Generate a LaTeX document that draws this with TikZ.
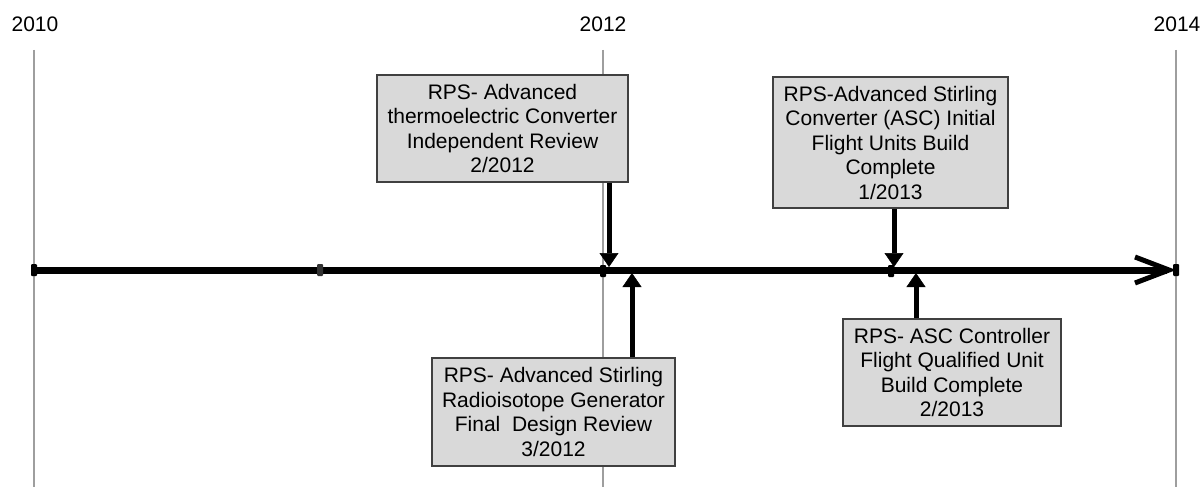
\documentclass[tikz,border=0pt]{standalone}
\usepackage{fontspec}
\setmainfont{Liberation Sans}
\usetikzlibrary{arrows.meta}
\begin{document}
\begin{tikzpicture}[x=1pt,y=-1pt,
  yearlabel/.style={font=\fontsize{21}{24}\selectfont, text=black, inner sep=0},
  gridline/.style={draw=black!38, line width=1.6pt},
  axisline/.style={line width=7pt, -{Straight Barb[length=34pt,width=26pt,line width=5pt]}},
  evbox/.style={draw=black!75, line width=1.5pt, fill=black!15, inner sep=0, align=center, font=\fontsize{21}{24.5}\selectfont},
  evarrow/.style={line width=5pt, -{Triangle[length=14pt,width=19pt,line width=0.5pt]}},
  tickmark/.style={fill=black, minimum width=6pt, minimum height=12pt, inner sep=0, rounded corners=1pt}
]
\useasboundingbox (0,0) rectangle (1202,487);
% year labels
\node[yearlabel] (l10) at (35,24) {2010};
\node[yearlabel] (l12) at (603,24) {2012};
\node[yearlabel] (l14) at (1177,24) {2014};
% grid lines
\draw[gridline] (34,50) -- (34,487);
\draw[gridline] (603,50) -- (603,487);
\draw[gridline] (1176,50) -- (1176,487);
% axis
\coordinate (start) at (34,270);
\coordinate (end) at (1176,270);
\draw[axisline] (start) -- (end);
\node[tickmark] (m0) at (34,270) {};
\node[tickmark, fill=black!80] (m1) at (320,270) {};
\node[tickmark] (m2) at (603,271) {};
\node[tickmark] (m3) at (891,271) {};
\node[tickmark] (m4) at (1176,270) {};
% events
\node[evbox, minimum width=251pt, minimum height=107pt] (A) at (502.5,128.5)
  {RPS- Advanced\\thermoelectric Converter\\Independent Review\\2/2012};
\node[evbox, minimum width=243pt, minimum height=108pt] (B) at (553.5,412)
  {RPS- Advanced Stirling\\Radioisotope Generator\\Final\ \ Design Review\\3/2012};
\node[evbox, minimum width=235pt, minimum height=131pt] (C) at (890.5,142.5)
  {RPS-Advanced Stirling\\Converter (ASC) Initial\\Flight Units Build\\Complete\\1/2013};
\node[evbox, minimum width=218pt, minimum height=107pt] (D) at (952,372.5)
  {RPS- ASC Controller\\Flight Qualified Unit\\Build Complete\\2/2013};
\coordinate (tA) at (609,267);
\coordinate (tB) at (632,273);
\coordinate (tC) at (894,267);
\coordinate (tD) at (916,273);
\draw[evarrow] (A.south -| tA) -- (tA);
\draw[evarrow] (B.north -| tB) -- (tB);
\draw[evarrow] (C.south -| tC) -- (tC);
\draw[evarrow] (D.north -| tD) -- (tD);
\end{tikzpicture}
\end{document}
